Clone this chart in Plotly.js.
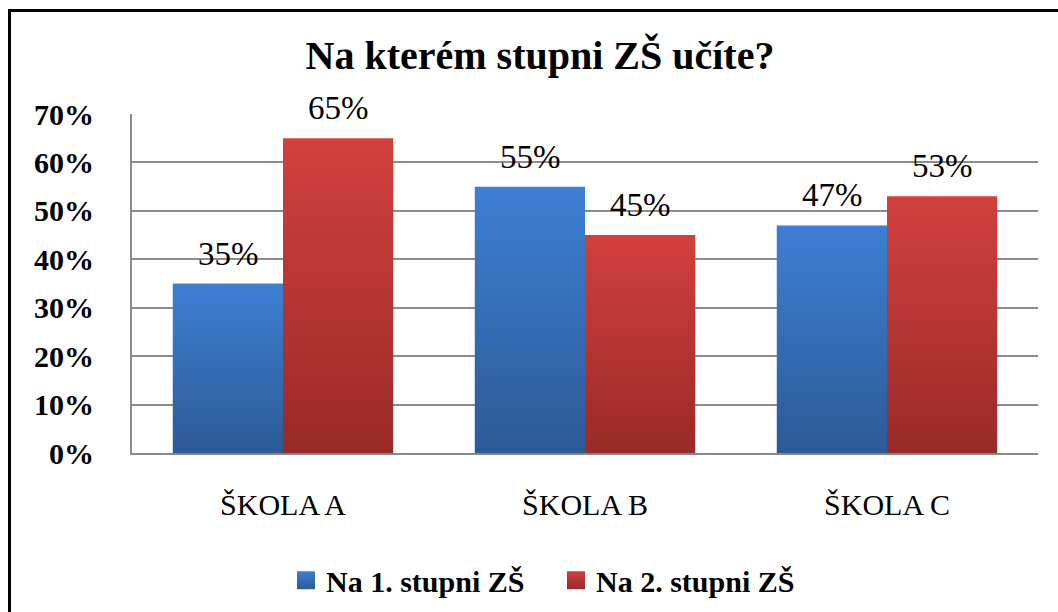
<!DOCTYPE html>
<html><head><meta charset="utf-8">
<script src="https://cdn.plot.ly/plotly-3.0.1.min.js"></script>
<style>
html,body{margin:0;padding:0;background:#fff;overflow:hidden}
#wrap{position:relative;width:1058px;height:612px}
#chart{width:1058px;height:612px}
#frame{position:absolute;left:8px;top:9px;width:1200px;height:800px;border-top:3px solid #000;border-left:3px solid #000;pointer-events:none}
</style></head>
<body><div id="wrap"><div id="chart"></div><div id="frame"></div></div>
<script>
const categories = ["ŠKOLA A", "ŠKOLA B", "ŠKOLA C"];
const seriesNames = ["Na 1. stupni ZŠ", "Na 2. stupni ZŠ"];
const stupen1 = [0.35, 0.55, 0.47];
const stupen2 = [0.65, 0.45, 0.53];
const yTicks = [0, 0.1, 0.2, 0.3, 0.4, 0.5, 0.6, 0.7];
const yTickLabels = ["0%", "10%", "20%", "30%", "40%", "50%", "60%", "70%"];

const FONT = "Liberation Serif, DejaVu Serif, serif";
const colors = ["#3569b1", "#b83532"];

const traces = [stupen1, stupen2].map((vals, k) => ({
  type: "bar", name: seriesNames[k], x: categories, y: vals,
  marker: {color: colors[k], line: {width: 0}},
  hoverinfo: "skip"
}));

const annotations = [];
[stupen1, stupen2].forEach((vals, k) => {
  vals.forEach((v, i) => {
    annotations.push({
      x: categories[i], y: v, xref: "x", yref: "y",
      text: Math.round(v * 100) + "%", showarrow: false,
      xanchor: "center", yanchor: "bottom",
      xshift: k === 0 ? -55 : 55, yshift: 10,
      font: {family: FONT, size: 33, color: "#000"}
    });
  });
});

const layout = {
  width: 1058, height: 612,
  margin: {l: 132, r: 20, t: 114, b: 159},
  paper_bgcolor: "#fff", plot_bgcolor: "#fff",
  title: {text: "<b>Na kterém stupni ZŠ učíte?</b>", x: 540 / 1058, xref: "container", xanchor: "center", y: 0.91, yref: "container", yanchor: "middle",
          font: {family: FONT, size: 40, color: "#000"}},
  barmode: "group", bargap: 0.27, bargroupgap: 0,
  xaxis: {type: "category", showgrid: false, showline: true, linecolor: "#888", linewidth: 2,
          ticks: "", tickfont: {family: FONT, size: 30, color: "#000"}, ticklabelstandoff: 24},
  yaxis: {range: [0, 0.7], tickvals: yTicks, ticktext: yTickLabels, showgrid: true, gridcolor: "#8c8c8c", gridwidth: 2,
          showline: true, linecolor: "#8c8c8c", linewidth: 2, zeroline: false, ticks: "",
          tickfont: {family: FONT, size: 30, color: "#000", weight: "bold"}, ticklabelstandoff: 30},
  showlegend: true,
  legend: {orientation: "h", x: 286 / 1058, xanchor: "left", xref: "container", y: 0.052, yref: "container", yanchor: "middle",
           font: {family: FONT, size: 30, color: "#000", weight: "bold"}, itemwidth: 30, entrywidth: 225, entrywidthmode: "pixels", tracegroupgap: 0},
  annotations: annotations
};

Plotly.newPlot("chart", traces, layout, {staticPlot: true, displayModeBar: false}).then(gd => {
  const svg = gd.querySelector("svg.main-svg");
  const ns = "http://www.w3.org/2000/svg";
  let defs = svg.querySelector("defs");
  if (!defs) { defs = document.createElementNS(ns, "defs"); svg.insertBefore(defs, svg.firstChild); }
  const grads = [["gBlue", "#3d7fd3", "#2c5a96"], ["gRed", "#d2403d", "#992a28"]];
  grads.forEach(([id, c1, c2]) => {
    const g = document.createElementNS(ns, "linearGradient");
    g.setAttribute("id", id); g.setAttribute("x1", "0"); g.setAttribute("y1", "0"); g.setAttribute("x2", "0"); g.setAttribute("y2", "1");
    [[0, c1], [1, c2]].forEach(([o, c]) => {
      const s = document.createElementNS(ns, "stop"); s.setAttribute("offset", o); s.setAttribute("stop-color", c); g.appendChild(s);
    });
    defs.appendChild(g);
  });
  gd.querySelectorAll(".barlayer .trace").forEach((t, k) => {
    t.querySelectorAll("path").forEach(p => { p.style.fill = "url(#" + grads[k][0] + ")"; });
  });
  gd.querySelectorAll(".legend .traces").forEach((t, k) => {
    t.querySelectorAll(".legendpoints path").forEach(p => {
      p.style.fill = "url(#" + grads[k][0] + ")";
      p.setAttribute("d", "M9,9H-9V-9H9Z");
    });
  });
});
</script></body></html>
